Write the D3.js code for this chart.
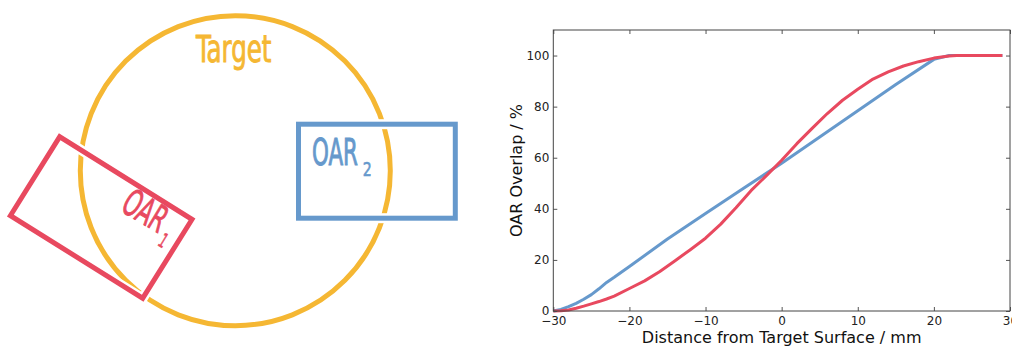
<!DOCTYPE html>
<html>
<head>
<meta charset="utf-8">
<script src="https://cdn.jsdelivr.net/npm/d3@7"></script>
<style>
  html, body { margin: 0; padding: 0; background: #fff; }
  svg { display: block; }
  .lbl { font-family: 'DejaVu Sans Condensed', 'Liberation Sans Narrow', 'Liberation Sans', sans-serif; }
  .ax text { font-family: 'DejaVu Sans', sans-serif; }
</style>
</head>
<body>
<svg id="chart" width="1012" height="347"></svg>
<script>
// ---------- data ----------
const blueX = [-30,-29,-28,-27,-26,-25,-24,-23,-22,-20,-15,-10,-5,0,5,10,15,20,22,29];
const blueY = [0,0.6,1.7,3,4.6,6.4,8.7,11.2,13.2,17.4,28.2,38.2,48.1,57.8,68.1,78.4,88.7,98.5,100,100];

const redX = [-30,-29,-28,-27,-26,-25,-24,-23,-22,-20,-18,-16,-14,-12,-10,-8,-6,-4,-2,0,2,4,6,8,10,12,14,16,18,20,22,23,29];
const redY = [0,0.1,0.4,1.1,1.9,2.8,3.7,4.7,5.8,8.8,11.8,15.5,19.7,24,28.5,34,40.4,47.2,53,59,65.5,71.5,77.3,82.5,86.8,90.8,93.6,95.9,97.6,99,99.8,100,100];

const xTicks = [-30,-20,-10,0,10,20,30];
const yTicks = [0,20,40,60,80,100];
const xDomain = [-30, 30];
const yDomain = [0, 110];
const xLabel = "Distance from Target Surface / mm";
const yLabel = "OAR Overlap / %";
const shapeLabels = { target: "Target", oar: "OAR", sub1: "1", sub2: "2" };

// ---------- colours ----------
const C_BLUE = "#6699CC";
const C_RED = "#E8495F";
const C_ORANGE = "#F5B733";

const svg = d3.select("#chart");
svg.append("rect").attr("width", 1012).attr("height", 347).attr("fill", "#fff");

// ---------- left diagram ----------
const diag = svg.append("g");
diag.append("circle")
  .attr("cx", 235.3).attr("cy", 170.7).attr("r", 155)
  .attr("fill", "none").attr("stroke", C_ORANGE).attr("stroke-width", 5);

// red (OAR1) rotated rectangle
const redG = diag.append("g").attr("transform", "translate(101.2,217.5) rotate(32)");
redG.append("rect").attr("x", -78).attr("y", -46.5).attr("width", 156).attr("height", 93)
  .attr("fill", "none").attr("stroke", "#fff").attr("stroke-width", 10);
redG.append("rect").attr("x", -78).attr("y", -46.5).attr("width", 156).attr("height", 93)
  .attr("fill", "none").attr("stroke", C_RED).attr("stroke-width", 5);

// blue (OAR2) rectangle
diag.append("rect").attr("x", 298.5).attr("y", 124.2).attr("width", 156.8).attr("height", 94)
  .attr("fill", "none").attr("stroke", "#fff").attr("stroke-width", 10);
diag.append("rect").attr("x", 298.5).attr("y", 124.2).attr("width", 156.8).attr("height", 94)
  .attr("fill", "none").attr("stroke", C_BLUE).attr("stroke-width", 5);

function lbl(g, txt, xx, yy, size, len, col) {
  return g.append("text").attr("class", "lbl")
    .attr("x", xx).attr("y", yy)
    .attr("font-size", size).attr("fill", col)
    .attr("stroke", col).attr("stroke-width", size > 25 ? 0.9 : 0.6)
    .attr("textLength", len).attr("lengthAdjust", "spacingAndGlyphs")
    .text(txt);
}

lbl(diag, shapeLabels.target, 196, 61.7, 37, 75.5, C_ORANGE);
lbl(diag, shapeLabels.oar, 312, 165, 37, 46, C_BLUE);
lbl(diag, shapeLabels.sub2, 362.7, 175.5, 20, 9, C_BLUE);

const t1 = diag.append("g").attr("transform", "translate(119.3,210) rotate(31)");
lbl(t1, shapeLabels.oar, 0, 0, 37, 45.5, C_RED);
lbl(t1, shapeLabels.sub1, 50, 10.5, 20, 7, C_RED);

// ---------- right chart ----------
const L = 553.3, R = 1010, T = 30, B = 311;
const x = d3.scaleLinear().domain(xDomain).range([L, R]);
const y = d3.scaleLinear().domain(yDomain).range([B, T]);
const fmt = d => (d < 0 ? "\u2212" + Math.abs(d) : String(d));

const line = d3.line().x(d => x(d[0])).y(d => y(d[1]));
const blue = blueX.map((v, i) => [v, blueY[i]]);
const red = redX.map((v, i) => [v, redY[i]]);

svg.append("path").datum(blue).attr("d", line)
  .attr("fill", "none").attr("stroke", C_BLUE).attr("stroke-width", 3)
  .attr("stroke-linejoin", "round");
svg.append("path").datum(red).attr("d", line)
  .attr("fill", "none").attr("stroke", C_RED).attr("stroke-width", 3)
  .attr("stroke-linejoin", "round");

function styleAxis(g) {
  g.select(".domain").remove();
  g.selectAll(".tick line").attr("stroke", "#555").attr("stroke-width", 1);
  g.selectAll(".tick text").attr("fill", "#222").attr("font-size", 12);
}

// bottom
svg.append("g").attr("class", "ax").attr("transform", `translate(0,${B})`)
  .call(d3.axisBottom(x).tickValues(xTicks).tickFormat(fmt).tickSizeInner(-4).tickSizeOuter(0).tickPadding(5))
  .call(styleAxis);
// top
svg.append("g").attr("class", "ax").attr("transform", `translate(0,${T})`)
  .call(d3.axisTop(x).tickValues(xTicks).tickFormat("").tickSizeInner(-4).tickSizeOuter(0))
  .call(styleAxis);
// left
svg.append("g").attr("class", "ax").attr("transform", `translate(${L},0)`)
  .call(d3.axisLeft(y).tickValues(yTicks).tickFormat(fmt).tickSizeInner(-4).tickSizeOuter(0).tickPadding(4))
  .call(styleAxis);
// right
svg.append("g").attr("class", "ax").attr("transform", `translate(${R},0)`)
  .call(d3.axisRight(y).tickValues(yTicks).tickFormat("").tickSizeInner(-4).tickSizeOuter(0))
  .call(styleAxis);

// frame
svg.append("rect").attr("x", L).attr("y", T).attr("width", R - L).attr("height", B - T)
  .attr("fill", "none").attr("stroke", "#444").attr("stroke-width", 1);

// axis titles
svg.append("text")
  .attr("x", (L + R) / 2).attr("y", 343)
  .attr("text-anchor", "middle").attr("font-size", 16).attr("fill", "#111")
  .style("font-family", "'DejaVu Sans', sans-serif")
  .text(xLabel);
svg.append("text")
  .attr("transform", `translate(522,${(T + B) / 2}) rotate(-90)`)
  .attr("text-anchor", "middle").attr("font-size", 16).attr("fill", "#111")
  .style("font-family", "'DejaVu Sans', sans-serif")
  .text(yLabel);
</script>
</body>
</html>
